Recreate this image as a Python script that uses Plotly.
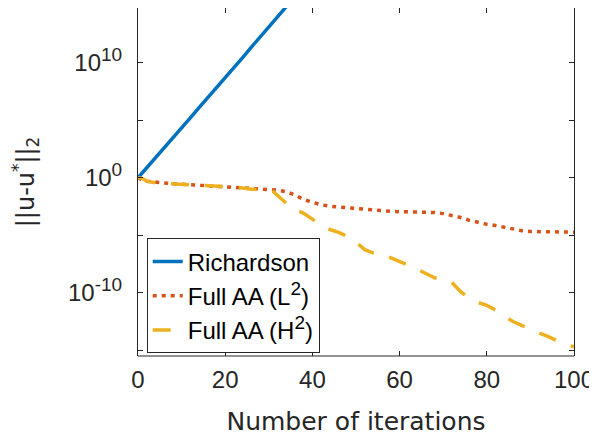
import numpy as np
import plotly.graph_objects as go

# ---- data (log10 of ||u-u*||_2) ----
rich_iter = [0, 2, 4, 6, 8, 10, 12, 14, 16, 18, 20, 22, 24, 26, 28, 30, 32, 34, 36, 38, 40]
rich_log = [0, 0.85, 1.75, 2.6, 3.45, 4.3, 5.2, 6.1, 6.95, 7.85, 8.7, 9.6, 10.45, 11.35,
            12.2, 13.05, 13.95, 14.85, 15.75, 16.65, 17.55]

l2_iter = [0, 1, 2, 4, 6, 8, 10, 12, 14, 16, 18, 20, 22, 24, 26, 28, 30, 32, 34, 36, 38, 40,
           42, 44, 46, 48, 50, 52, 54, 56, 58, 60, 62, 64, 66, 68, 70, 72, 74, 76, 78, 80,
           82, 84, 86, 88, 90, 92, 94, 96, 98, 100]
l2_log = [0, -0.2, -0.3, -0.4, -0.45, -0.52, -0.57, -0.62, -0.66, -0.71, -0.75, -0.79, -0.84,
          -0.88, -0.92, -0.96, -1.0, -1.07, -1.22, -1.5, -1.9, -2.15, -2.35, -2.48, -2.55,
          -2.62, -2.68, -2.75, -2.82, -2.88, -2.92, -2.95, -2.97, -2.98, -2.99, -3.02, -3.12,
          -3.27, -3.45, -3.7, -3.9, -4.05, -4.15, -4.3, -4.45, -4.6, -4.67, -4.7, -4.71,
          -4.72, -4.72, -4.73]

h2_iter = [0, 1, 2, 4, 6, 8, 10, 12, 14, 16, 18, 20, 22, 24, 26, 28, 30, 31, 32, 33, 34, 35,
           36, 38, 40, 42, 44, 46, 48, 50, 52, 54, 56, 58, 60, 62, 64, 66, 68, 70, 72, 74, 76,
           78, 80, 82, 84, 86, 88, 90, 92, 94, 96, 98, 100]
h2_log = [0, -0.05, -0.3, -0.45, -0.5, -0.54, -0.58, -0.62, -0.66, -0.68, -0.7, -0.75, -0.8,
          -0.9, -1.0, -1.02, -1.05, -1.2, -1.55, -1.95, -2.25, -2.55, -2.75, -3.1, -3.6,
          -4.15, -4.5, -4.75, -5.1, -5.6, -6.25, -6.55, -6.65, -6.95, -7.3, -7.6, -7.95,
          -8.35, -8.7, -8.85, -9.1, -9.9, -10.5, -10.85, -11.1, -11.5, -12.05, -12.5, -12.85,
          -13.2, -13.5, -13.8, -14.15, -14.5, -14.7]

x_ticks = [0, 20, 40, 60, 80, 100]
y_tick_exps = [-15, -10, -5, 0, 5, 10]
y_tick_labels = ["",
                 "10<sup><span style='font-size:19px'>-10</span></sup>",
                 "",
                 "10<sup><span style='font-size:19px'>0</span></sup>",
                 "",
                 "10<sup><span style='font-size:19px'>10</span></sup>"]

names = ["Richardson",
         "Full AA (L<sup><span style='font-size:19px'>2</span></sup>)",
         "Full AA (H<sup><span style='font-size:19px'>2</span></sup>)"]
colors = ["#0072BD", "#D95319", "#EDB120"]

fig = go.Figure()
fig.add_trace(go.Scatter(x=rich_iter, y=np.power(10.0, rich_log), mode="lines", name=names[0],
                         line=dict(color=colors[0], width=3.5)))
fig.add_trace(go.Scatter(x=l2_iter, y=np.power(10.0, l2_log), mode="lines", name=names[1],
                         line=dict(color=colors[1], width=3.5, dash="4px,5px")))
fig.add_trace(go.Scatter(x=h2_iter, y=np.power(10.0, h2_log), mode="lines", name=names[2],
                         line=dict(color=colors[2], width=3.5, dash="18px,16px")))

axis_col = "#262626"
# the page has an 8px body margin, so the figure is 589x430 and offset by 8px
fig.update_layout(
    width=589, height=430,
    margin=dict(l=130, r=23, t=0, b=82, autoexpand=False),
    paper_bgcolor="white", plot_bgcolor="white",
    font=dict(family="Liberation Sans", size=24, color=axis_col),
    showlegend=True,
    legend=dict(x=0.02, y=0.338, xanchor="left", yanchor="top",
                bgcolor="white", bordercolor=axis_col, borderwidth=1,
                font=dict(family="Liberation Sans", size=24, color="black"),
                itemwidth=30),
    xaxis=dict(range=[0, 100], tickvals=x_ticks, ticks="inside", ticklen=5,
               tickcolor=axis_col, showline=False, mirror="ticks",
               showgrid=False, zeroline=False, automargin=False,
               ticklabelstandoff=7,
               title=dict(text="Number of iterations",
                          font=dict(family="DejaVu Sans", size=25, color=axis_col),
                          standoff=20)),
    yaxis=dict(type="log", range=[-15.5, 14.76],
               tickvals=[10.0 ** e for e in y_tick_exps], ticktext=y_tick_labels,
               tickfont=dict(size=24),
               ticks="inside", ticklen=5, tickcolor=axis_col,
               showline=True, linecolor=axis_col, linewidth=1, mirror="ticks",
               showgrid=False, zeroline=False, automargin=False, ticklabelstandoff=10,
               title=dict(text="||u-u<sup>*</sup>||<sub>2</sub>",
                          font=dict(family="DejaVu Sans", size=24, color=axis_col),
                          standoff=30)),
    shapes=[dict(type="line", xref="paper", yref="paper", x0=0, x1=1, y0=0, y1=0,
                 line=dict(color=axis_col, width=1))],
)

fig.write_html("out.html")
